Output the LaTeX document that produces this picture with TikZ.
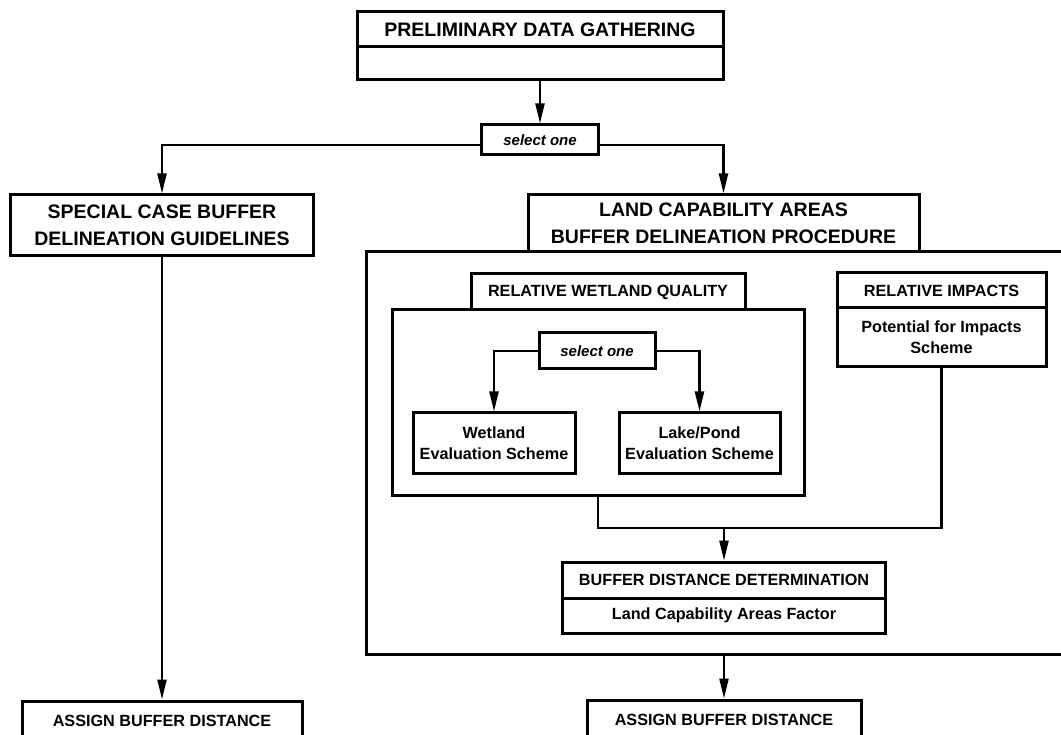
\documentclass[tikz,border=0pt]{standalone}
\usepackage{fontspec}
\setmainfont{Liberation Sans}
\usetikzlibrary{arrows.meta,calc}
\tikzset{
  box/.style={draw, line width=3pt, rectangle, inner sep=0pt, align=center,
    font=\bfseries\fontsize{16.2}{21}\selectfont},
  bigbox/.style={box, font=\bfseries\fontsize{19.5}{27}\selectfont},
  selbox/.style={box, font=\bfseries\itshape\fontsize{15}{18}\selectfont},
  conn/.style={line width=2.3pt},
  arr/.style={conn, -{Triangle[length=20pt,width=9pt]}},
}
\begin{document}
\begin{tikzpicture}[x=1pt,y=-1pt]
\useasboundingbox (0,0) rectangle (1061,735);
\fill[white] (0,0) rectangle (1061,735);
\clip (0,0) rectangle (1061,735);

% top
\node[bigbox, minimum width=366pt, minimum height=35pt] (prelimT) at (540,29.5) {PRELIMINARY DATA GATHERING};
\node[box, minimum width=366pt, minimum height=33pt] (prelimB) at (540,63.5) {};
\node[selbox, minimum width=117pt, minimum height=30pt] (sel1) at (540,140) {select one};

% left branch
\node[bigbox, minimum width=303pt, minimum height=61pt] (special) at (162,225.5) {SPECIAL CASE BUFFER\\DELINEATION GUIDELINES};
\node[box, minimum width=280pt, minimum height=40pt] (assignL) at (162,721) {ASSIGN BUFFER DISTANCE};

% right branch: procedure
\node[box, minimum width=714pt, minimum height=402pt] (proc) at (723,453) {};
\node[bigbox, minimum width=391pt, minimum height=57pt] (landcap) at (723.5,223.5) {LAND CAPABILITY AREAS\\BUFFER DELINEATION PROCEDURE};

\node[box, minimum width=412pt, minimum height=185pt] (inner) at (598,402.5) {};
\node[box, minimum width=274pt, minimum height=36pt] (rwq) at (608,292) {RELATIVE WETLAND QUALITY};
\node[selbox, minimum width=116pt, minimum height=36pt] (sel2) at (597,351) {select one};
\node[box, minimum width=162pt, minimum height=60pt] (wetland) at (494,443) {Wetland\\Evaluation Scheme};
\node[box, minimum width=161pt, minimum height=60pt] (lake) at (699.5,443) {Lake/Pond\\Evaluation Scheme};

\node[box, minimum width=209pt, minimum height=35pt] (riT) at (941.5,290.5) {RELATIVE IMPACTS};
\node[box, minimum width=209pt, minimum height=59pt] (riB) at (941.5,337.5) {Potential for Impacts\\Scheme};

\node[box, minimum width=323pt, minimum height=36pt] (bdT) at (724,580) {BUFFER DISTANCE DETERMINATION};
\node[box, minimum width=323pt, minimum height=35pt] (bdB) at (724,615.5) {Land Capability Areas Factor};

\node[box, minimum width=274pt, minimum height=40pt] (assignR) at (724,720) {ASSIGN BUFFER DISTANCE};

\coordinate (join) at (724,528);

% connectors
\draw[arr] (prelimB.south) -- (sel1.north);
\draw[arr] ($(sel1.west)+(0,5)$) -| (special.north);
\draw[arr] ($(sel1.east)+(0,5)$) -| (landcap.north);
\draw[arr] (special.south) -- (assignL.north);

\draw[arr] (sel2.west) -| (wetland.north);
\draw[arr] (sel2.east) -| (lake.north);

\draw[conn] (inner.south) |- (join) -| (riB.south);
\draw[arr] (join) -- (bdT.north);
\draw[arr] (proc.south -| assignR.north) -- (assignR.north);
\end{tikzpicture}
\end{document}
